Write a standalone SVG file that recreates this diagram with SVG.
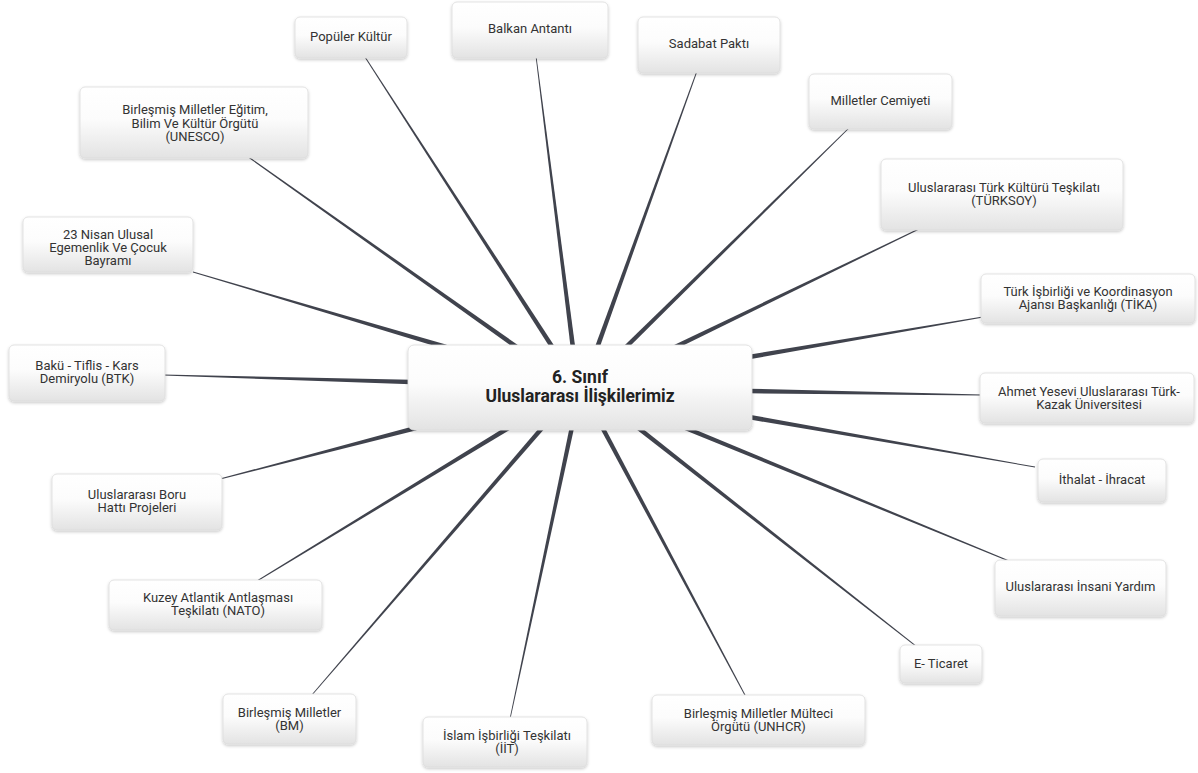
<svg xmlns="http://www.w3.org/2000/svg" width="1198" height="773" viewBox="0 0 1198 773">
<defs>
<linearGradient id="g" x1="0" y1="0" x2="0" y2="1">
<stop offset="0" stop-color="#ffffff"/>
<stop offset="0.45" stop-color="#fcfcfc"/>
<stop offset="1" stop-color="#e3e3e3"/>
</linearGradient>
<filter id="sh" x="-10%" y="-20%" width="120%" height="150%">
<feDropShadow dx="0" dy="1.5" stdDeviation="1.5" flood-color="#000" flood-opacity="0.22"/>
</filter>
</defs>
<style>
.box{fill:url(#g);stroke:#dcdcdc;stroke-width:0.8;filter:url(#sh)}
.t{font-family:Roboto,"Liberation Sans",sans-serif;font-size:13px;fill:#333;text-anchor:middle}
.c{font-family:Roboto,"Liberation Sans",sans-serif;font-size:17.5px;font-weight:bold;fill:#222;text-anchor:middle}
.ln{fill:#40434d}
</style>
<rect width="1198" height="773" fill="#fff"/>
<g id="connectors" class="ln">
<polygon points="554.9,346.8 365.4,56.8 364.6,57.2 551.1,349.2"/>
<polygon points="575.3,347.7 536.4,55.9 535.6,56.1 570.7,348.3"/>
<polygon points="599.2,348.8 697.4,71.2 696.6,70.8 594.8,347.2"/>
<polygon points="626.6,349.6 850.3,127.3 849.7,126.7 623.4,346.4"/>
<polygon points="674.0,350.1 921.2,228.4 920.8,227.6 672.0,345.9"/>
<polygon points="749.4,359.3 983.1,317.4 982.9,316.6 748.6,354.7"/>
<polygon points="749,393.3 982,395.45 982,394.55 749,388.7"/>
<polygon points="748.6,419.3 1034.9,467.4 1035.1,466.6 749.4,414.7"/>
<polygon points="682.1,429.1 1008.8,561.4 1009.2,560.6 683.9,424.9"/>
<polygon points="635.6,428.8 915.7,646.4 916.3,645.7 638.4,425.2"/>
<polygon points="600.0,428.1 745.6,697.2 746.4,696.8 604.0,425.9"/>
<polygon points="569.8,426.5 509.6,718.9 510.4,719.1 574.2,427.5"/>
<polygon points="541.3,425.5 310.7,695.7 311.3,696.3 544.7,428.5"/>
<polygon points="508.8,425.0 256.8,580.6 257.2,581.4 511.2,429.0"/>
<polygon points="415.4,425.8 219.9,478.6 220.1,479.4 416.6,430.2"/>
<polygon points="411.1,379.7 163.0,374.55 163.0,375.45 410.9,384.3"/>
<polygon points="446.7,344.8 193.1,271.6 192.9,272.4 445.3,349.2"/>
<polygon points="519.3,346.1 247.3,155.6 246.7,156.4 516.7,349.9"/>
</g>
<g id="center">
<rect class="box" x="408" y="345" width="344" height="85" rx="6"/>
<text class="c" x="580" y="383">6. Sınıf</text>
<text class="c" x="580" y="402">Uluslararası İlişkilerimiz</text>
</g>
<g id="n-populer">
<rect class="box" x="295" y="17" width="112" height="41" rx="5"/>
<text class="t" x="351" y="41">Popüler Kültür</text>
</g>
<g id="n-balkan">
<rect class="box" x="452" y="2" width="156" height="56" rx="5"/>
<text class="t" x="530" y="33">Balkan Antantı</text>
</g>
<g id="n-sadabat">
<rect class="box" x="638" y="17" width="142" height="56" rx="5"/>
<text class="t" x="709" y="48">Sadabat Paktı</text>
</g>
<g id="n-cemiyet">
<rect class="box" x="809" y="74" width="143" height="55" rx="5"/>
<text class="t" x="880.5" y="105">Milletler Cemiyeti</text>
</g>
<g id="n-turksoy">
<rect class="box" x="881" y="159" width="242" height="71" rx="5"/>
<text class="t" x="1004" y="192">Uluslararası Türk Kültürü Teşkilatı</text>
<text class="t" x="1004" y="205">(TÜRKSOY)</text>
</g>
<g id="n-tika">
<rect class="box" x="981" y="274" width="214" height="49" rx="5"/>
<text class="t" x="1088" y="296">Türk İşbirliği ve Koordinasyon</text>
<text class="t" x="1088" y="309">Ajansı Başkanlığı (TİKA)</text>
</g>
<g id="n-yesevi">
<rect class="box" x="980" y="373" width="214" height="50" rx="5"/>
<text class="t" x="1089" y="396">Ahmet Yesevi Uluslararası Türk-</text>
<text class="t" x="1089" y="409">Kazak Üniversitesi</text>
</g>
<g id="n-ithalat">
<rect class="box" x="1038" y="459" width="128" height="43" rx="5"/>
<text class="t" x="1102" y="484">İthalat - İhracat</text>
</g>
<g id="n-insani">
<rect class="box" x="995" y="560" width="171" height="56" rx="5"/>
<text class="t" x="1080.5" y="591">Uluslararası İnsani Yardım</text>
</g>
<g id="n-eticaret">
<rect class="box" x="900" y="645" width="82" height="38" rx="5"/>
<text class="t" x="941" y="668">E- Ticaret</text>
</g>
<g id="n-unhcr">
<rect class="box" x="652" y="695" width="213" height="50" rx="5"/>
<text class="t" x="758.5" y="718">Birleşmiş Milletler Mülteci</text>
<text class="t" x="758.5" y="731">Örgütü (UNHCR)</text>
</g>
<g id="n-iit">
<rect class="box" x="423" y="717" width="164" height="50" rx="5"/>
<text class="t" x="507" y="740">İslam İşbirliği Teşkilatı</text>
<text class="t" x="507" y="753">(İİT)</text>
</g>
<g id="n-bm">
<rect class="box" x="223" y="694" width="133" height="50" rx="5"/>
<text class="t" x="289.5" y="717">Birleşmiş Milletler</text>
<text class="t" x="289.5" y="730">(BM)</text>
</g>
<g id="n-nato">
<rect class="box" x="109" y="580" width="213" height="50" rx="5"/>
<text class="t" x="218" y="602">Kuzey Atlantik Antlaşması</text>
<text class="t" x="218" y="615">Teşkilatı (NATO)</text>
</g>
<g id="n-boru">
<rect class="box" x="52" y="474" width="170" height="56" rx="5"/>
<text class="t" x="137" y="499">Uluslararası Boru</text>
<text class="t" x="137" y="512">Hattı Projeleri</text>
</g>
<g id="n-btk">
<rect class="box" x="9" y="345" width="156" height="56" rx="5"/>
<text class="t" x="87" y="370">Bakü - Tiflis - Kars</text>
<text class="t" x="87" y="383">Demiryolu (BTK)</text>
</g>
<g id="n-23nisan">
<rect class="box" x="23" y="217" width="170" height="55" rx="5"/>
<text class="t" x="108" y="239">23 Nisan Ulusal</text>
<text class="t" x="108" y="252">Egemenlik Ve Çocuk</text>
<text class="t" x="108" y="265">Bayramı</text>
</g>
<g id="n-unesco">
<rect class="box" x="80" y="87" width="228" height="71" rx="5"/>
<text class="t" x="195" y="114">Birleşmiş Milletler Eğitim,</text>
<text class="t" x="195" y="127.5">Bilim Ve Kültür Örgütü</text>
<text class="t" x="195" y="141">(UNESCO)</text>
</g>
</svg>
